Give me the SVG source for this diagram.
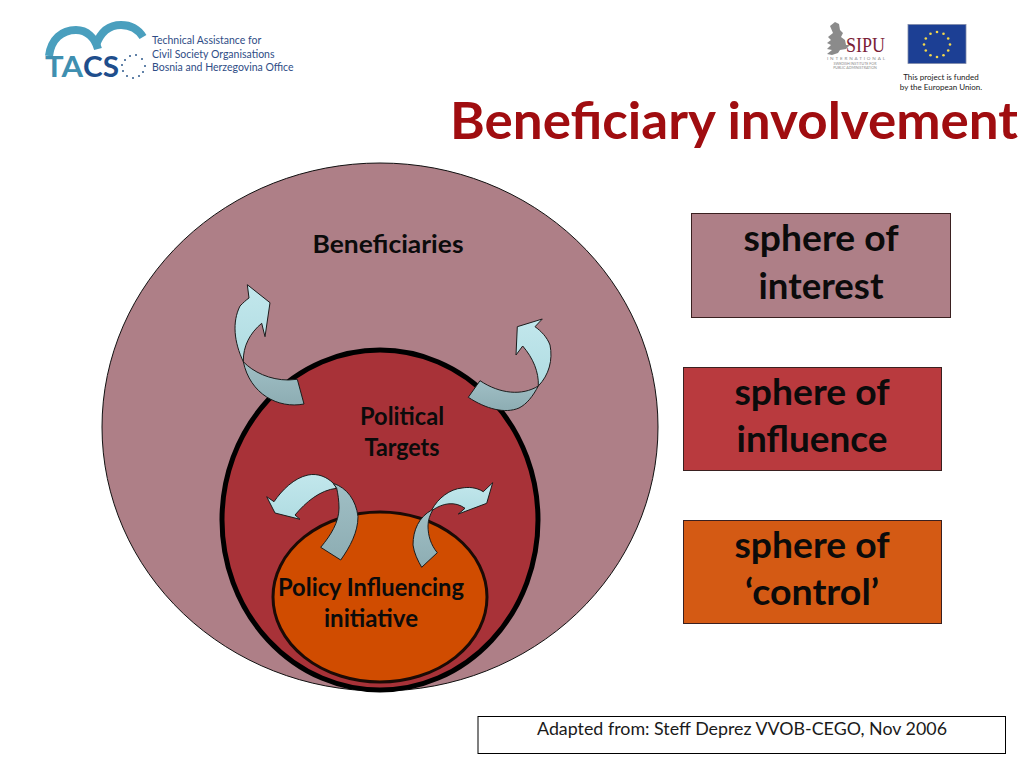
<svg xmlns="http://www.w3.org/2000/svg" width="1024" height="768" viewBox="0 0 1024 768">
<defs>
<linearGradient id="lg" x1="0" y1="0" x2="0" y2="1"><stop offset="0" stop-color="#c2e7ec"/><stop offset="1" stop-color="#b0dce2"/></linearGradient>
<linearGradient id="dg" x1="0" y1="0" x2="0" y2="1"><stop offset="0" stop-color="#a0bfc5"/><stop offset="1" stop-color="#8dadb3"/></linearGradient>
</defs>
<style>
text{font-family:"Lato","Liberation Sans",sans-serif}
.b{font-weight:700;fill:#0b0b0b;text-anchor:middle}
.s{font-size:37px;font-weight:700;fill:#0b0b0b;text-anchor:middle}
.l{font-size:24px}
.box{stroke:#3a2020;stroke-width:1}
.lt{fill:url(#lg);stroke:#1c1c1c;stroke-width:1;stroke-linejoin:round}
.dk{fill:url(#dg);stroke:#1c1c1c;stroke-width:1;stroke-linejoin:round}
.tl{font-size:10.5px;fill:#2f4d86}
.st{fill:#2f5a8c}
.ey{fill:#f5d94a}
</style>
<rect width="1024" height="768" fill="#fff"/>

<g id="logo-tacs">
<path d="M49 56C51 39 62 30 76 30C87 30 95 38 98 49" fill="none" stroke="#4a9fbe" stroke-width="8"/>
<path d="M96 45C101 31 110 25 121 25C131 25 138 29 143 37" fill="none" stroke="#4a9fbe" stroke-width="8"/>
<text x="45" y="77" font-size="29" font-weight="700" fill="#3f8fb0" textLength="38" lengthAdjust="spacingAndGlyphs">TA</text>
<text x="83" y="77" font-size="29" font-weight="700" fill="#1f4e8c" textLength="36" lengthAdjust="spacingAndGlyphs">CS</text>
<g class="st">
<circle cx="145" cy="66" r="1"/><circle cx="143" cy="72" r="1"/><circle cx="139" cy="76" r="1"/><circle cx="133" cy="78" r="1"/><circle cx="127" cy="76" r="1"/><circle cx="123" cy="71" r="1"/><circle cx="122" cy="65" r="1"/><circle cx="125" cy="60" r="1"/><circle cx="130" cy="56" r="1"/><circle cx="136" cy="55" r="1"/><circle cx="142" cy="59" r="1"/>
</g>
<text class="tl" x="152" y="44">Technical Assistance for</text>
<text class="tl" x="152" y="58">Civil Society Organisations</text>
<text class="tl" x="152" y="71">Bosnia and Herzegovina Office</text>
</g>

<g id="logo-sipu">
<path d="M830 26L835 22L839 24L840 30L843 33L841 37L845 40L846 45L850 45L846 49L840 50L838 53L832 55L827 54L832 50L827 49L831 45L827 43L831 40L828 37L833 33Z" fill="#8b8b8b"/>
<text x="846" y="52" font-size="22" fill="#7a2035" style="font-family:'Liberation Serif',serif" textLength="39" lengthAdjust="spacingAndGlyphs">SIPU</text>
<text x="827" y="60" font-size="4.6" fill="#8a8a8a" textLength="58">INTERNATIONAL</text>
<text x="855" y="65" font-size="3.6" fill="#8a8a8a" text-anchor="middle">SWEDISH INSTITUTE FOR</text>
<text x="855" y="69" font-size="3.6" fill="#8a8a8a" text-anchor="middle">PUBLIC ADMINISTRATION</text>
</g>

<g id="logo-eu">
<rect x="908" y="24.500" width="58" height="39" fill="#1c3f94" stroke="#7f8aa8" stroke-width="0.800"/>
<g class="ey">
<circle cx="937" cy="32" r="1.300"/><circle cx="943.500" cy="33.700" r="1.300"/><circle cx="948.200" cy="38.500" r="1.300"/><circle cx="950" cy="44.500" r="1.300"/><circle cx="948.200" cy="50.500" r="1.300"/><circle cx="943.500" cy="55.300" r="1.300"/><circle cx="937" cy="57" r="1.300"/><circle cx="930.500" cy="55.300" r="1.300"/><circle cx="925.800" cy="50.500" r="1.300"/><circle cx="924" cy="44.500" r="1.300"/><circle cx="925.800" cy="38.500" r="1.300"/><circle cx="930.500" cy="33.700" r="1.300"/>
</g>
<text x="941" y="80" font-size="8" fill="#222" text-anchor="middle">This project is funded</text>
<text x="941" y="90" font-size="8" fill="#222" text-anchor="middle">by the European Union.</text>
</g>

<text id="title" x="450" y="139" font-size="52" font-weight="700" fill="#a00d10" textLength="568" lengthAdjust="spacingAndGlyphs">Beneficiary involvement</text>

<g id="sphere-beneficiaries">
<ellipse cx="380" cy="427" rx="278" ry="264" fill="#ae7f87" stroke="#111" stroke-width="1"/>
<text class="b l" x="388" y="253" textLength="151" lengthAdjust="spacingAndGlyphs">Beneficiaries</text>
</g>
<g id="sphere-political">
<ellipse cx="380" cy="520" rx="158" ry="170" fill="#a83238" stroke="#000" stroke-width="5"/>
<text class="b l" x="402" y="425" textLength="84" lengthAdjust="spacingAndGlyphs">Political</text>
<text class="b l" x="402" y="456" textLength="75" lengthAdjust="spacingAndGlyphs">Targets</text>
</g>
<g id="sphere-policy">
<ellipse cx="380" cy="597" rx="107" ry="85" fill="#d04c00" stroke="#1a0a05" stroke-width="3"/>
<text class="b l" x="371" y="596" textLength="186" lengthAdjust="spacingAndGlyphs">Policy Influencing</text>
<text class="b l" x="371" y="627" textLength="94" lengthAdjust="spacingAndGlyphs">initiative</text>
</g>

<g id="connectors">
<path class="lt" d="M247.300 284.700L270 302.700L265 336.700L261.700 323.300C250 333 243 346 243.300 361.700C234 342 232 322 240 306C243 303 246 300 249 298Z"/>
<path class="dk" d="M243.300 361.700C253 372 270 380 288.300 380L297.300 379.300L304 404C278 409 250 394 243.300 361.700Z"/>
<path class="lt" d="M542.300 319L517.300 326.700L516 355L522.700 346C533 358 539 372 538.300 386C549 375 553 360 550 345C547 337 541 331 535 326.700Z"/>
<path class="dk" d="M538.300 386C522 396 500 394 480 380.700L468.300 397.300C486 409 505 414 519 408C527 404 533 396 538.300 386Z"/>
<path class="lt" d="M266.700 496.700L275 513L300 519.300L295 515C306 502 320 490 336.700 488.300L333.300 483.300C327 477 318 473 308 475C294 478 282 490 274 501.700Z"/>
<path class="dk" d="M333.300 483.300C347 488 356 500 358 516.700C358 532 350 547 340.700 560L320.700 547.300C331 535 339 522 339 508C339 501 338 494 336.700 488.300Z"/>
<path class="lt" d="M492.700 482.700L486.700 503.300L458.300 514L465 508.300C455 501 443 503 432.700 510L431.700 510C438 498 450 489 462 488C468 487 476 487 483.300 491.700Z"/>
<path class="dk" d="M431.700 510C419 517 413 530 413 545C414 553 418 561 421.700 567.300L437.300 552.700C431 545 428 536 428 526C428 520 430 515 432.700 510Z"/>
</g>

<g id="legend-interest">
<rect class="box" x="691.500" y="213.500" width="259" height="104" fill="#ae7f87"/>
<text class="s" x="821" y="251" textLength="155" lengthAdjust="spacingAndGlyphs">sphere of</text>
<text class="s" x="821" y="299" textLength="125" lengthAdjust="spacingAndGlyphs">interest</text>
</g>
<g id="legend-influence">
<rect class="box" x="683.500" y="367.500" width="258" height="103" fill="#b93a3e"/>
<text class="s" x="812" y="405" textLength="155" lengthAdjust="spacingAndGlyphs">sphere of</text>
<text class="s" x="812" y="452" textLength="151" lengthAdjust="spacingAndGlyphs">influence</text>
</g>
<g id="legend-control">
<rect class="box" x="683.500" y="520.500" width="258" height="103" fill="#d45a14"/>
<text class="s" x="812" y="558" textLength="155" lengthAdjust="spacingAndGlyphs">sphere of</text>
<text class="s" x="812" y="605" textLength="134" lengthAdjust="spacingAndGlyphs">‘control’</text>
</g>

<g id="source">
<rect x="478" y="716.500" width="527.500" height="37" fill="#fff" stroke="#000" stroke-width="1"/>
<text x="742" y="735" font-size="18" fill="#1a1a1a" text-anchor="middle" textLength="410" lengthAdjust="spacingAndGlyphs">Adapted from: Steff Deprez VVOB-CEGO, Nov 2006</text>
</g>
</svg>
